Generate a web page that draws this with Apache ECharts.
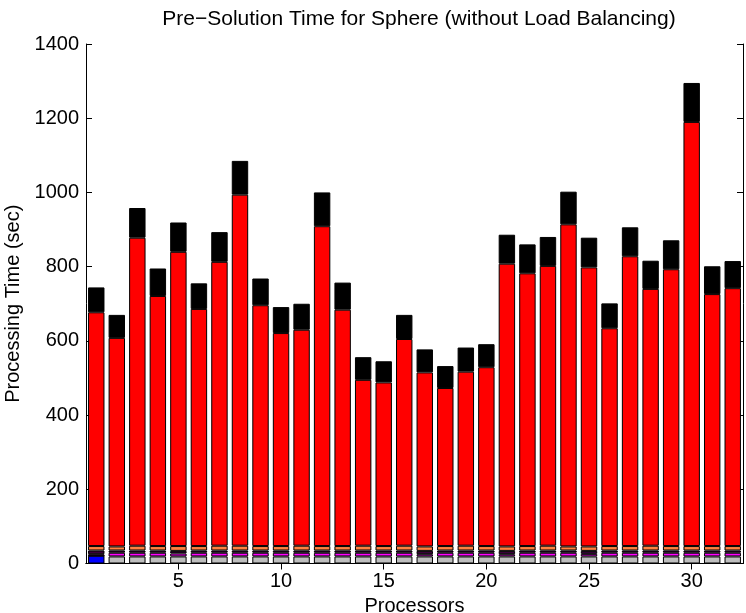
<!DOCTYPE html>
<html>
<head>
<meta charset="utf-8">
<script src="https://cdn.jsdelivr.net/npm/echarts@6/dist/echarts.min.js"></script>
<style>
  html, body { margin: 0; padding: 0; background: #fff; }
  #chart { width: 746px; height: 613px; }
</style>
</head>
<body>
<div id="chart"></div>
<script>
// Processor indices along the x axis
const processors = ['1','2','3','4','5','6','7','8','9','10','11','12','13','14','15','16',
                    '17','18','19','20','21','22','23','24','25','26','27','28','29','30','31','32'];

// Per-processor time components (sec), stacked bottom to top
const blueTime    = [21,0,0,0,0,0,0,0,0,0,0,0,0,0,0,0,0,0,0,0,0,0,0,0,0,0,0,0,0,0,0,0];
const grayTime    = [0,19,19,19,19,19,19,19,19,19,19,19,19,19,19,19,19,19,19,19,19,19,19,19,19,19,19,19,19,19,19,19];
const magentaTime = [4,10,10,10,8,10,10,10,10,10,10,10,10,10,10,10,6,10,10,10,6,10,10,10,7,10,10,10,10,10,10,10];
const purpleTime  = [10,6,6,6,7,6,6,6,6,6,6,6,6,6,6,6,9,6,6,6,9,6,6,6,8,6,6,6,6,6,6,6];
const orangeTime  = [12,11,13,12,13,12,13,13,12,12,13,12,12,13,12,13,12,12,13,12,12,12,13,11,12,12,12,13,12,12,12,12];
const redTime     = [630,562,830,674,793,639,765,946,649,574,582,862,637,447,441,557,
                     469,426,469,482,762,735,754,868,752,587,781,692,746,1143,679,695];
const blackTime   = [67,62,80,74,79,69,80,91,72,70,70,91,73,61,57,65,
                     62,59,65,62,78,78,78,88,80,67,78,76,78,105,75,73];

const yTicks = { min: 0, max: 1400, interval: 200 };
const xTickEvery = 5;

const FONT = "'Liberation Sans', Arial, Helvetica, sans-serif";

const layers = [
  { name: 'blue',    data: blueTime,    color: '#0000ff' },
  { name: 'gray',    data: grayTime,    color: '#bebebe' },
  { name: 'magenta', data: magentaTime, color: '#ff00ff' },
  { name: 'purple',  data: purpleTime,  color: '#3a003a' },
  { name: 'orange',  data: orangeTime,  color: '#ff8040' },
  { name: 'red',     data: redTime,     color: '#ff0000' },
  { name: 'black',   data: blackTime,   color: '#000000' }
];

const chart = echarts.init(document.getElementById('chart'), null, { renderer: 'canvas' });

const tickAt = (idx) => (idx + 1) % xTickEvery === 0;

const xAxisBase = {
  type: 'category',
  data: processors,
  boundaryGap: true,
  axisLine: { show: true, lineStyle: { color: '#000', width: 1 } },
  axisTick: { show: true, inside: true, length: 6, alignWithLabel: true, interval: tickAt,
              lineStyle: { color: '#000', width: 1 } },
  splitLine: { show: false }
};

const yAxisBase = {
  type: 'value',
  min: yTicks.min, max: yTicks.max, interval: yTicks.interval,
  axisLine: { show: true, lineStyle: { color: '#000', width: 1 } },
  axisTick: { show: true, inside: true, length: 6, lineStyle: { color: '#000', width: 1 } },
  splitLine: { show: false }
};

chart.setOption({
  animation: false,
  backgroundColor: '#fff',
  title: {
    text: 'Pre\u2212Solution Time for Sphere (without Load Balancing)',
    left: 414, top: 4, textAlign: 'center',
    textStyle: { fontFamily: FONT, fontSize: 21, fontWeight: 'normal', color: '#000' }
  },
  grid: { left: 86, right: 3, top: 44, bottom: 49.5, containLabel: false, outerBoundsMode: 'none' },
  xAxis: [
    Object.assign({}, xAxisBase, {
      position: 'bottom',
      name: 'Processors', nameLocation: 'middle', nameGap: 30,
      nameTextStyle: { fontFamily: FONT, fontSize: 20, color: '#000' },
      axisLabel: { show: true, interval: tickAt, margin: 8,
                   fontFamily: FONT, fontSize: 20, color: '#000' }
    }),
    Object.assign({}, xAxisBase, { position: 'top', axisLabel: { show: false } })
  ],
  yAxis: [
    Object.assign({}, yAxisBase, {
      position: 'left',
      name: 'Processing Time (sec)', nameLocation: 'middle', nameGap: 57,
      nameTextStyle: { fontFamily: FONT, fontSize: 20, color: '#000' },
      axisLabel: { show: true, margin: 7, fontFamily: FONT, fontSize: 20, color: '#000',
                   formatter: (v) => String(v) }
    }),
    Object.assign({}, yAxisBase, { position: 'right', axisLabel: { show: false } })
  ],
  series: layers.map(l => ({
    name: l.name,
    type: 'bar',
    stack: 'total',
    xAxisIndex: 0, yAxisIndex: 0,
    barWidth: '80%',
    data: l.data,
    itemStyle: { color: l.color, borderColor: '#000', borderWidth: 1 },
    emphasis: { disabled: true },
    silent: true
  }))
});
</script>
</body>
</html>
